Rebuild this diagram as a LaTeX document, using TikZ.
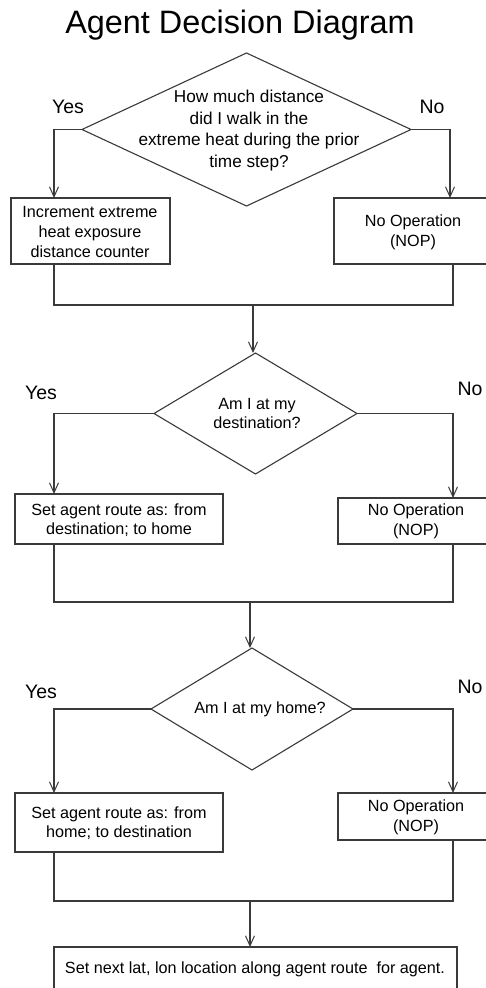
\documentclass[tikz,border=0pt]{standalone}
\usepackage{fontspec}
\setmainfont{Liberation Sans}
\usetikzlibrary{arrows.meta,shapes.geometric}
\definecolor{ln}{HTML}{3A3A3A}
\tikzset{
  every node/.style={inner sep=0pt, outer sep=0pt},
  boxn/.style={draw=ln, line width=1.1pt, rectangle},
  dia/.style={draw=ln, line width=1.1pt, diamond},
  txt/.style={align=center, font=\fontsize{16.2}{19.6}\selectfont},
  qtxt/.style={align=center, font=\fontsize{17.2}{21.8}\selectfont},
  yn/.style={font=\fontsize{19.5}{22}\selectfont},
  conn/.style={draw=ln, line width=1.1pt},
  arr/.style={conn, -{Straight Barb[length=10pt,width=9pt,line width=1pt]}},
}
\begin{document}
\begin{tikzpicture}[x=1pt,y=-1pt]
\useasboundingbox (0,0) rectangle (486,988);
\clip (0,0) rectangle (486,988);
\fill[white] (0,0) rectangle (486,988);

\node[font=\fontsize{32.4}{36}\selectfont, anchor=base] (title) at (240,33.5) {Agent Decision Diagram};

% ---- section 1
\node[dia, minimum width=329pt, minimum height=153pt] (d1) at (246.5,129.5) {};
\node[qtxt] (q1) at (249,130.5) {How much distance\\did I walk in the\\extreme heat during the prior\\time step?};
\node[boxn, minimum width=159pt, minimum height=66pt] (b1) at (90.5,231) {};
\node[txt] (t1) at (90,232) {Increment extreme\\heat exposure\\distance counter};
\node[boxn, minimum width=158pt, minimum height=66pt] (b2) at (413,231) {};
\node[txt] (t2) at (413,232.5) {No Operation\\(NOP)};
\node[yn] (y1) at (68,107) {Yes};
\node[yn] (n1) at (432,107) {No};
\coordinate (l1) at (54,0);
\coordinate (r1) at (450,0);
\coordinate (r1b) at (453,0);
\draw[arr] (d1.west) -| (l1 |- b1.north);
\draw[arr] (d1.east) -| (r1 |- b2.north);
\coordinate (m1) at (253,305);
\draw[conn] (l1 |- b1.south) -- (l1 |- m1) -- (r1b |- m1) -- (r1b |- b2.south);

% ---- section 2
\node[dia, minimum width=203pt, minimum height=121pt] (d2) at (255.5,413.5) {};
\node[txt] (q2) at (257,413.5) {Am I at my\\destination?};
\draw[arr] (m1) -- (m1 |- d2.north);
\node[boxn, minimum width=208pt, minimum height=50pt] (b3) at (119,519) {};
\node[txt] (t3) at (119,520) {Set agent route as: from\\destination; to home};
\node[boxn, minimum width=154pt, minimum height=46pt] (b4) at (415,521) {};
\node[txt] (t4) at (416,521.5) {No Operation\\(NOP)};
\node[yn] (y2) at (41,393) {Yes};
\node[yn] (n2) at (470,389) {No};
\coordinate (r2) at (453,0);
\draw[arr] (d2.west) -| (l1 |- b3.north);
\draw[arr] (d2.east) -| (r2 |- b4.north);
\coordinate (m2) at (250,602);
\draw[conn] (l1 |- b3.south) -- (l1 |- m2) -- (r2 |- m2) -- (r2 |- b4.south);

% ---- section 3
\node[dia, minimum width=202pt, minimum height=122pt] (d3) at (252,709) {};
\node[txt] (q3) at (260,709.5) {Am I at my home?};
\draw[arr] (m2) -- (m2 |- d3.north);
\node[boxn, minimum width=208pt, minimum height=59pt] (b5) at (119,822.5) {};
\node[txt] (t5) at (119,823) {Set agent route as: from\\home; to destination};
\node[boxn, minimum width=154pt, minimum height=47pt] (b6) at (415,816.5) {};
\node[txt] (t6) at (416,817.2) {No Operation\\(NOP)};
\node[yn] (y3) at (41,692) {Yes};
\node[yn] (n3) at (470,687) {No};
\draw[arr] (d3.west) -| (l1 |- b5.north);
\draw[arr] (d3.east) -| (r2 |- b6.north);
\coordinate (m3) at (250,901);
\draw[conn] (l1 |- b5.south) -- (l1 |- m3) -- (r2 |- m3) -- (r2 |- b6.south);

% ---- final
\node[boxn, minimum width=403pt, minimum height=46pt] (b7) at (255.5,970) {};
\node[txt] (t7) at (255,969.5) {Set next lat, lon location along agent route\ \ for agent.};
\draw[arr] (m3) -- (m3 |- b7.north);
\end{tikzpicture}
\end{document}
